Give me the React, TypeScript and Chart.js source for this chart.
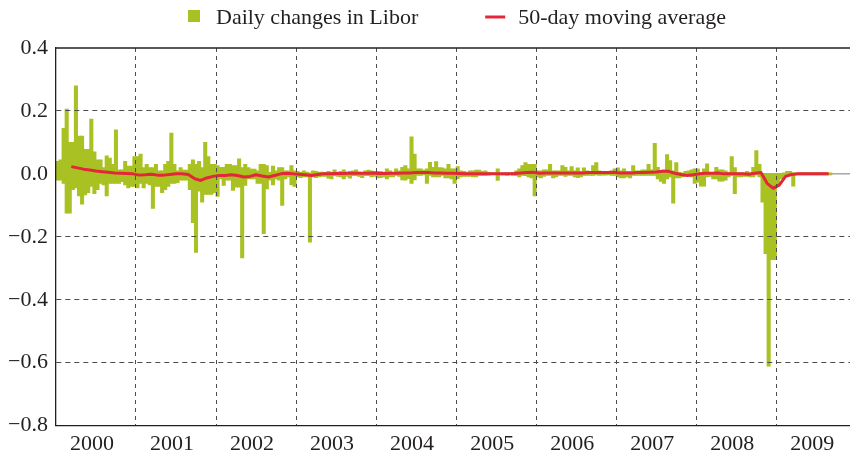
import React, { useEffect, useRef } from 'react';
import { Chart, registerables } from 'chart.js';

Chart.register(...registerables);

// ---------- data ----------
const years = [2000, 2001, 2002, 2003, 2004, 2005, 2006, 2007, 2008, 2009];
const yTickValues = [0.4, 0.2, 0.0, -0.2, -0.4, -0.6, -0.8];
const BINS_PER_YEAR = 26;
const MA_PER_YEAR = 13;

const barLabel = 'Daily changes in Libor';
const lineLabel = '50-day moving average';

// highest / lowest daily change within each bin (about two weeks)
const hi2000 = [0.04, 0.045, 0.145, 0.206, 0.10, 0.10, 0.28, 0.12, 0.12, 0.078, 0.078, 0.174, 0.07, 0.045, 0.045, 0.02, 0.057, 0.05, 0.03, 0.14, 0.013, 0.013, 0.04, 0.025, 0.025, 0.055];
const lo2000 = [-0.02, -0.02, -0.03, -0.125, -0.125, -0.05, -0.045, -0.07, -0.096, -0.067, -0.06, -0.04, -0.063, -0.05, -0.03, -0.035, -0.07, -0.03, -0.03, -0.03, -0.03, -0.025, -0.035, -0.045, -0.04, -0.04];
const hi2001 = [0.055, 0.063, 0.02, 0.03, 0.02, 0.02, 0.03, 0.01, 0.01, 0.03, 0.04, 0.13, 0.03, 0.01, 0.02, 0.012, 0.012, 0.03, 0.045, 0.03, 0.04, 0.02, 0.10, 0.055, 0.03, 0.03];
const lo2001 = [-0.045, -0.03, -0.045, -0.03, -0.035, -0.11, -0.04, -0.04, -0.06, -0.05, -0.04, -0.03, -0.03, -0.028, -0.02, -0.02, -0.02, -0.05, -0.155, -0.25, -0.055, -0.09, -0.065, -0.065, -0.065, -0.06];
const hi2002 = [0.026, 0.021, 0.021, 0.03, 0.03, 0.026, 0.026, 0.048, 0.02, 0.03, 0.02, 0.015, 0.015, 0.01, 0.03, 0.03, 0.026, 0.005, 0.025, 0.01, 0.02, 0.02, 0.01, 0.01, 0.026, 0.01];
const lo2002 = [-0.072, -0.016, -0.037, -0.02, -0.02, -0.053, -0.042, -0.042, -0.267, -0.037, -0.016, -0.016, -0.016, -0.03, -0.03, -0.19, -0.048, -0.02, -0.035, -0.016, -0.02, -0.1, -0.016, -0.01, -0.035, -0.04];
const hi2003 = [0.008, 0.005, 0.01, 0.006, 0.003, 0.01, 0.008, 0.006, 0.006, 0.005, 0.008, 0.006, 0.013, 0.006, 0.008, 0.013, 0.006, 0.008, 0.01, 0.013, 0.006, 0.005, 0.01, 0.012, 0.01, 0.008];
const lo2003 = [-0.01, -0.012, -0.01, -0.01, -0.217, -0.01, -0.012, -0.01, -0.008, -0.008, -0.014, -0.016, -0.006, -0.008, -0.01, -0.016, -0.008, -0.014, -0.006, -0.006, -0.008, -0.012, -0.006, -0.006, -0.01, -0.008];
const hi2004 = [0.008, 0.008, 0.006, 0.016, 0.01, 0.005, 0.016, 0.01, 0.021, 0.026, 0.016, 0.118, 0.063, 0.016, 0.016, 0.012, 0.016, 0.037, 0.021, 0.039, 0.02, 0.019, 0.016, 0.03, 0.016, 0.016];
const lo2004 = [-0.013, -0.012, -0.01, -0.016, -0.01, -0.01, -0.005, -0.008, -0.019, -0.02, -0.015, -0.03, -0.019, -0.005, -0.005, -0.003, -0.03, -0.005, -0.01, -0.01, -0.01, -0.005, -0.013, -0.013, -0.016, -0.03];
const hi2005 = [0.023, 0.01, 0.008, 0.006, 0.01, 0.01, 0.012, 0.012, 0.008, 0.01, 0.005, 0.003, 0.003, 0.016, 0.003, 0.003, 0.003, 0.003, 0.005, 0.01, 0.016, 0.026, 0.036, 0.03, 0.03, 0.03];
const lo2005 = [-0.015, -0.01, -0.008, -0.008, -0.008, -0.01, -0.01, -0.005, -0.005, -0.005, -0.004, -0.002, -0.002, -0.021, -0.003, -0.003, -0.005, -0.003, -0.005, -0.006, -0.01, -0.005, -0.006, -0.01, -0.013, -0.07];
const hi2006 = [0.01, 0.01, 0.013, 0.013, 0.03, 0.01, 0.01, 0.01, 0.026, 0.021, 0.01, 0.023, 0.01, 0.019, 0.008, 0.019, 0.01, 0.008, 0.026, 0.036, 0.01, 0.008, 0.008, 0.008, 0.01, 0.016];
const lo2006 = [-0.01, -0.013, -0.008, -0.005, -0.005, -0.013, -0.01, -0.005, -0.005, -0.008, -0.005, -0.005, -0.01, -0.012, -0.01, -0.005, -0.005, -0.005, -0.005, -0.003, -0.005, -0.004, -0.004, -0.003, -0.005, -0.005];
const hi2007 = [0.019, 0.01, 0.016, 0.008, 0.008, 0.026, 0.01, 0.01, 0.013, 0.013, 0.03, 0.013, 0.097, 0.021, 0.01, 0.013, 0.061, 0.042, 0.01, 0.036, 0.005, 0.003, 0.008, 0.01, 0.013, 0.016];
const lo2007 = [-0.01, -0.013, -0.013, -0.01, -0.013, -0.005, -0.005, -0.005, -0.005, -0.005, -0.005, -0.005, -0.005, -0.016, -0.024, -0.03, -0.016, -0.01, -0.093, -0.013, -0.013, -0.01, -0.005, -0.005, -0.01, -0.03];
const hi2008 = [0.016, 0.005, 0.016, 0.032, 0.005, 0.005, 0.021, 0.013, 0.013, 0.01, 0.005, 0.055, 0.02, 0.003, 0.003, 0.003, 0.008, 0.003, 0.021, 0.074, 0.03, 0, 0, 0, 0, 0];
const lo2008 = [-0.026, -0.039, -0.039, -0.01, -0.008, -0.016, -0.016, -0.023, -0.023, -0.02, -0.01, -0.005, -0.063, -0.01, -0.01, -0.008, -0.008, -0.01, -0.01, -0.003, -0.01, -0.09, -0.254, -0.611, -0.273, -0.273];
const hi2009 = [0, 0, 0.003, 0.008, 0.008, 0.003, 0.003, 0.003, 0.003, 0.003, 0.003, 0.003, 0.003, 0.003, 0.003, 0.003, 0.003, 0.003];
const lo2009 = [-0.04, -0.016, -0.01, -0.005, -0.005, -0.039, -0.003, -0.003, -0.003, -0.003, -0.003, -0.003, -0.003, -0.003, -0.003, -0.003, -0.003, -0.003];

// 50-day moving average, sampled 13 times a year
const ma2000 = [null, null, 0.023, 0.019, 0.015, 0.012, 0.009, 0.007, 0.005, 0.003, 0.002, 0.001, 0.0];
const ma2001 = [-0.004, -0.003, -0.001, -0.004, -0.004, -0.002, 0, 0, -0.002, -0.015, -0.021, -0.013, -0.008];
const ma2002 = [-0.005, -0.005, -0.003, -0.005, -0.01, -0.008, -0.003, -0.007, -0.01, -0.005, 0, 0.002, 0];
const ma2003 = [-0.001, -0.003, -0.005, -0.002, 0, 0, 0.001, 0.001, 0.002, 0.002, 0.002, 0.002, 0.003];
const ma2004 = [0.001, 0.001, 0.002, 0.002, 0.003, 0.003, 0.004, 0.004, 0.004, 0.003, 0.003, 0.002, 0.002];
const ma2005 = [0.001, 0, 0, 0, 0, 0, 0, 0, 0, 0.001, 0.003, 0.004, 0.005];
const ma2006 = [0.002, 0.003, 0.003, 0.003, 0.003, 0.003, 0.003, 0.003, 0.004, 0.004, 0.004, 0.004, 0.005];
const ma2007 = [0.003, 0.003, 0.003, 0.004, 0.004, 0.005, 0.006, 0.008, 0.008, 0.002, -0.002, -0.005, -0.003];
const ma2008 = [0, 0.002, 0.002, 0.003, 0, 0, 0, 0, -0.001, 0.002, 0.004, -0.03, -0.046];
const ma2009 = [-0.035, -0.008, -0.002, 0, 0, 0, 0, 0, 0];

const highs = [hi2000, hi2001, hi2002, hi2003, hi2004, hi2005, hi2006, hi2007, hi2008, hi2009];
const lows = [lo2000, lo2001, lo2002, lo2003, lo2004, lo2005, lo2006, lo2007, lo2008, lo2009];
const mas = [ma2000, ma2001, ma2002, ma2003, ma2004, ma2005, ma2006, ma2007, ma2008, ma2009];

// ---------- styles ----------
const BAR_COLOR = '#a9c122';
const LINE_COLOR = '#e4263a';
const TEXT_COLOR = '#231f20';
const GRID_COLOR = '#4d4d4d';
const FONT_FAMILY = "'Liberation Serif', 'Times New Roman', serif";

function buildBars() {
  const out: { x: number; y: [number, number] }[] = [];
  years.forEach((yr, i) => {
    highs[i].forEach((h, k) => {
      out.push({ x: yr + (k + 0.5) / BINS_PER_YEAR, y: [lows[i][k], h] });
    });
  });
  return out;
}

function buildMA() {
  const out: { x: number; y: number | null }[] = [];
  years.forEach((yr, i) => {
    mas[i].forEach((v, j) => {
      out.push({ x: yr + (j + 0.5) / MA_PER_YEAR, y: v });
    });
  });
  return out;
}

const formatY = (v: number) => {
  const r = Math.round(v * 10) / 10;
  return (r < 0 ? '\u2212' : '') + Math.abs(r).toFixed(1);
};

const refLinesPlugin = {
  id: 'refLines',
  beforeDatasetsDraw(chart: any) {
    const { ctx, chartArea, scales } = chart;
    const y0 = scales.y.getPixelForValue(0);
    ctx.save();
    ctx.strokeStyle = '#7a7a7a';
    ctx.lineWidth = 1;
    ctx.beginPath();
    ctx.moveTo(chartArea.left, y0);
    ctx.lineTo(chartArea.right, y0);
    ctx.stroke();
    ctx.restore();
  },
  afterDraw(chart: any) {
    const { ctx, chartArea, scales } = chart;
    const yTop = scales.y.getPixelForValue(yTickValues[0]);
    ctx.save();
    ctx.strokeStyle = TEXT_COLOR;
    ctx.lineWidth = 1.3;
    ctx.beginPath();
    ctx.moveTo(chartArea.left, yTop);
    ctx.lineTo(chartArea.right, yTop);
    ctx.stroke();
    ctx.restore();
  },
};

const legendPlugin = {
  id: 'topLegend',
  afterDraw(chart: any) {
    const { ctx, chartArea } = chart;
    ctx.save();
    ctx.font = `22px ${FONT_FAMILY}`;
    ctx.textBaseline = 'alphabetic';
    const w1 = ctx.measureText(barLabel).width;
    const w2 = ctx.measureText(lineLabel).width;
    const total = 12 + 16 + w1 + 67 + 20 + 13 + w2;
    let x = (chartArea.left + chartArea.right) / 2 - total / 2 + 4;
    const baseline = 24;
    ctx.fillStyle = BAR_COLOR;
    ctx.fillRect(x, 10, 12, 12);
    x += 28;
    ctx.fillStyle = TEXT_COLOR;
    ctx.fillText(barLabel, x, baseline);
    x += w1 + 67;
    ctx.strokeStyle = LINE_COLOR;
    ctx.lineWidth = 3;
    ctx.beginPath();
    ctx.moveTo(x, 17);
    ctx.lineTo(x + 20, 17);
    ctx.stroke();
    x += 33;
    ctx.fillStyle = TEXT_COLOR;
    ctx.fillText(lineLabel, x, baseline);
    ctx.restore();
  },
};

export default function App() {
  const canvasRef = useRef<HTMLCanvasElement | null>(null);

  useEffect(() => {
    if (!canvasRef.current) return;
    const chart = new Chart(canvasRef.current, {
      type: 'bar',
      data: {
        datasets: [
          {
            type: 'bar',
            label: barLabel,
            data: buildBars() as any,
            backgroundColor: BAR_COLOR,
            borderWidth: 0,
            barThickness: 3.4,
            grouped: false,
            order: 2,
          } as any,
          {
            type: 'line',
            label: lineLabel,
            data: buildMA() as any,
            borderColor: LINE_COLOR,
            backgroundColor: LINE_COLOR,
            borderWidth: 3,
            pointRadius: 0,
            tension: 0,
            spanGaps: false,
            borderJoinStyle: 'round',
            order: 1,
          } as any,
        ],
      },
      options: {
        animation: false,
        responsive: false,
        devicePixelRatio: 1,
        events: [],
        layout: { autoPadding: false, padding: { left: 0, top: 48, right: 0, bottom: -5 } },
        plugins: {
          legend: { display: false },
          tooltip: { enabled: false },
        },
        scales: {
          x: {
            type: 'linear',
            offset: false,
            min: years[0],
            max: 2009.92,
            afterBuildTicks: (scale: any) => {
              scale.ticks = years.map((v) => ({ value: v }));
            },
            ticks: {
              callback: (v: any) => String(v),
              labelOffset: 36,
              padding: 5,
              maxRotation: 0,
              minRotation: 0,
              autoSkip: false,
              color: TEXT_COLOR,
              font: { family: FONT_FAMILY, size: 22 },
            },
            grid: {
              offset: false,
              drawTicks: false,
              z: 1,
              lineWidth: 1,
              color: (c: any) => (c.tick && c.tick.value === years[0] ? 'rgba(0,0,0,0)' : GRID_COLOR),
            },
            border: { display: true, color: TEXT_COLOR, width: 1.3, dash: [4, 4], z: 1 },
          },
          y: {
            type: 'linear',
            min: -0.8,
            max: 0.4,
            afterBuildTicks: (scale: any) => {
              scale.ticks = yTickValues.slice().reverse().map((v) => ({ value: v }));
            },
            ticks: {
              callback: (v: any) => formatY(Number(v)),
              padding: 8,
              color: TEXT_COLOR,
              font: { family: FONT_FAMILY, size: 22 },
            },
            grid: {
              drawTicks: false,
              z: 1,
              lineWidth: 1,
              color: (c: any) => {
                const v = c.tick ? c.tick.value : 0;
                if (Math.abs(v) < 1e-9 || v > 0.39 || v < -0.79) return 'rgba(0,0,0,0)';
                return GRID_COLOR;
              },
            },
            border: { display: true, color: TEXT_COLOR, width: 1.3, dash: [5, 4], z: 1 },
          },
        },
      } as any,
      plugins: [refLinesPlugin, legendPlugin],
    });
    return () => chart.destroy();
  }, []);

  return (
    <div style={{ position: 'fixed', left: 0, top: 0, width: 850, height: 457, background: '#fff' }}>
      <canvas ref={canvasRef} width={850} height={457} style={{ width: 850, height: 457, display: 'block' }} />
    </div>
  );
}
